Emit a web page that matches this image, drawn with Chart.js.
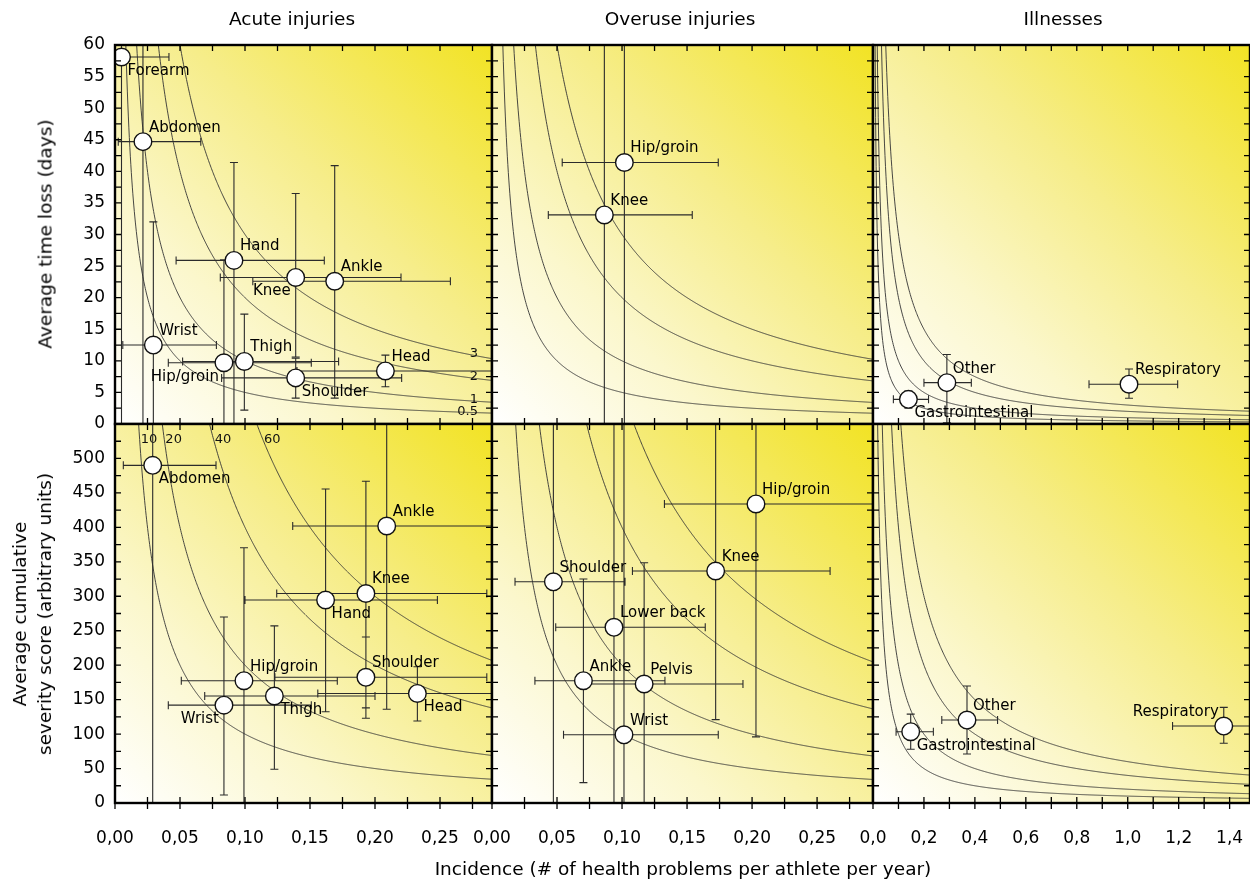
<!DOCTYPE html>
<html>
<head>
<meta charset="utf-8">
<script src="https://cdn.jsdelivr.net/npm/chart.js@4.4.0/dist/chart.umd.min.js"></script>
<style>
  body { margin: 0; background: #fff; }
  #wrap { position: relative; width: 1250px; height: 882px; overflow: hidden; font-family: "DejaVu Sans", sans-serif; color: #000; }
  #wrap canvas { position: absolute; left: 0; top: 0; }
  .txt { position: absolute; white-space: nowrap; transform: translate(-50%, -50%); font-size: 18.5px; }
  .rot { transform: translate(-50%, -50%) rotate(-90deg); text-align: center; line-height: 25px; }
</style>
</head>
<body>
<div id="wrap">
  <canvas id="c1" width="1250" height="882"></canvas>
  <canvas id="c2" width="1250" height="882"></canvas>
  <canvas id="c3" width="1250" height="882"></canvas>
  <canvas id="c4" width="1250" height="882"></canvas>
  <canvas id="c5" width="1250" height="882"></canvas>
  <canvas id="c6" width="1250" height="882"></canvas>

  <div class="txt" style="left:292px; top:18px;">Acute injuries</div>
  <div class="txt" style="left:680px; top:18px;">Overuse injuries</div>
  <div class="txt" style="left:1063px; top:18px;">Illnesses</div>
  <div class="txt rot" style="left:45px; top:234px;">Average time loss (days)</div>
  <div class="txt rot" style="left:32px; top:614px;">Average cumulative<br>severity score (arbitrary units)</div>
  <div class="txt" style="left:683px; top:868px;">Incidence (# of health problems per athlete per year)</div>
</div>

<script>
Chart.defaults.font.family = '"DejaVu Sans", sans-serif';
Chart.defaults.color = '#111';

// tick values
var timeTicks = [0, 5, 10, 15, 20, 25, 30, 35, 40, 45, 50, 55, 60];
var severityTicks = [0, 50, 100, 150, 200, 250, 300, 350, 400, 450, 500];
var injuryIncTicks = [0, 0.05, 0.10, 0.15, 0.20, 0.25];
var illnessIncTicks = [0, 0.2, 0.4, 0.6, 0.8, 1.0, 1.2, 1.4];

// risk contours (incidence x time loss / incidence x severity)
var timeLossLevels = [0.5, 1, 2, 3];
var timeLossLevelText = ['0.5', '1', '2', '3'];
var severityLevels = [10, 20, 40, 60];
var severityLevelText = ['10', '20', '40', '60'];

// acute injuries - time loss
var acuteTimeNames = ['Forearm', 'Abdomen', 'Hand', 'Knee', 'Ankle', 'Wrist', 'Hip/groin', 'Thigh', 'Shoulder', 'Head'];
var acuteTimeInc = [0.005, 0.0215, 0.0915, 0.139, 0.169, 0.0295, 0.0838, 0.0995, 0.139, 0.208];
var acuteTimeIncLo = [-0.02, 0.0025, 0.047, 0.081, 0.106, 0.006, 0.041, 0.052, 0.082, 0.14];
var acuteTimeIncHi = [0.0415, 0.066, 0.161, 0.22, 0.258, 0.078, 0.151, 0.172, 0.2205, 0.33];
var acuteTimeLoss = [58.1, 44.7, 25.9, 23.2, 22.6, 12.5, 9.7, 9.9, 7.3, 8.4];
var acuteTimeLossLo = [-5, -5, -5, 10.6, 4.1, -5, -5, 2.2, 4.1, 5.9];
var acuteTimeLossHi = [90, 90, 41.4, 36.5, 40.9, 32.0, 26, 17.4, 10.4, 10.9];
var acuteTimeLabelAt = ['se', 'ne', 'ne', 'sw', 'ne', 'ne', 'sw', 'ne', 'se', 'ne'];

// overuse injuries - time loss
var overuseTimeNames = ['Hip/groin', 'Knee'];
var overuseTimeInc = [0.1018, 0.0864];
var overuseTimeIncLo = [0.054, 0.0433];
var overuseTimeIncHi = [0.174, 0.154];
var overuseTimeLoss = [41.4, 33.1];
var overuseTimeLossLo = [-5, -5];
var overuseTimeLossHi = [90, 90];
var overuseTimeLabelAt = ['ne', 'ne'];

// illnesses - time loss
var illTimeNames = ['Gastrointestinal', 'Other', 'Respiratory'];
var illTimeInc = [0.139, 0.29, 1.005];
var illTimeIncLo = [0.08, 0.2, 0.848];
var illTimeIncHi = [0.218, 0.386, 1.196];
var illTimeLoss = [3.9, 6.55, 6.3];
var illTimeLossLo = [2.5, 0.2, 4.07];
var illTimeLossHi = [5.2, 11.0, 8.7];
var illTimeLabelAt = ['se', 'ne', 'ne'];

// acute injuries - severity
var acuteSevNames = ['Abdomen', 'Ankle', 'Knee', 'Hand', 'Hip/groin', 'Shoulder', 'Head', 'Thigh', 'Wrist'];
var acuteSevInc = [0.029, 0.209, 0.193, 0.162, 0.0992, 0.193, 0.2326, 0.1226, 0.0838];
var acuteSevIncLo = [0.0064, 0.1367, 0.1244, 0.1, 0.051, 0.123, 0.156, 0.069, 0.041];
var acuteSevIncHi = [0.0777, 0.35, 0.286, 0.248, 0.171, 0.286, 0.35, 0.2, 0.151];
var acuteSeverity = [490, 402, 304, 294.6, 177.5, 182.4, 159, 155.3, 142];
var acuteSeverityLo = [-50, 136, 123, 132.5, -50, 138, 119, 49, 11.6];
var acuteSeverityHi = [700, 700, 467, 455.7, 370.5, 241, 197.8, 257, 270];
var acuteSevLabelAt = ['se', 'ne', 'ne', 'se', 'ne', 'ne', 'se', 'se', 'sw'];

// overuse injuries - severity
var overuseSevNames = ['Hip/groin', 'Knee', 'Shoulder', 'Lower back', 'Ankle', 'Pelvis', 'Wrist'];
var overuseSevInc = [0.203, 0.172, 0.0472, 0.0938, 0.0703, 0.117, 0.1015];
var overuseSevIncLo = [0.1326, 0.108, 0.0177, 0.049, 0.033, 0.073, 0.055];
var overuseSevIncHi = [0.35, 0.26, 0.1023, 0.164, 0.133, 0.193, 0.174];
var overuseSeverity = [434, 336.7, 321, 255, 177.5, 172.7, 99];
var overuseSeverityLo = [96, 121, -50, -50, 29.5, -50, 0.5];
var overuseSeverityHi = [700, 700, 700, 700, 325, 348.7, 700];
var overuseSevLabelAt = ['ne', 'ne', 'ne', 'ne', 'ne', 'ne', 'ne'];

// illnesses - severity
var illSevNames = ['Gastrointestinal', 'Other', 'Respiratory'];
var illSevInc = [0.148, 0.369, 1.377];
var illSevIncLo = [0.0906, 0.27, 1.176];
var illSevIncHi = [0.237, 0.489, 1.7];
var illSeverity = [103.5, 120.4, 111.7];
var illSeverityLo = [78, 71, 86.6];
var illSeverityHi = [129, 169.8, 138.8];
var illSevLabelAt = ['se', 'ne', 'nw'];

var panelInfo = {};
var Y_AXIS_W = 100;   // room for y tick labels on the left column
var X_AXIS_H = 60;    // room for x tick labels on the bottom row

// yellow corner gradient behind the plot
var bgPlugin = {
  id: 'panelBg',
  beforeDraw: function(chart) {
    var a = chart.chartArea, ctx = chart.ctx;
    var g = ctx.createLinearGradient(a.left, a.bottom, a.right, a.top);
    g.addColorStop(0, '#ffffff');
    g.addColorStop(0.3, '#fbf7cc');
    g.addColorStop(0.6, '#f6ed8a');
    g.addColorStop(1, '#f2e324');
    ctx.save();
    ctx.fillStyle = g;
    ctx.fillRect(a.left, a.top, a.right - a.left, a.bottom - a.top);
    ctx.restore();
  }
};

// hyperbolic iso-burden lines
var isoPlugin = {
  id: 'isoLines',
  beforeDatasetsDraw: function(chart) {
    var p = panelInfo[chart.canvas.id];
    var a = chart.chartArea, ctx = chart.ctx, xs = chart.scales.x, ys = chart.scales.y;
    ctx.save();
    ctx.beginPath();
    ctx.rect(a.left, a.top, a.right - a.left, a.bottom - a.top);
    ctx.clip();
    ctx.strokeStyle = '#333';
    ctx.lineWidth = 0.9;
    p.levels.forEach(function(k) {
      var start = xs.getPixelForValue(k / ys.max);
      ctx.beginPath();
      ctx.moveTo(start, a.top);
      for (var px = start; px <= a.right + 1; px += 0.5) {
        ctx.lineTo(px, ys.getPixelForValue(k / xs.getValueForPixel(px)));
      }
      ctx.stroke();
    });
    if (p.levelText) {
      ctx.fillStyle = '#111';
      ctx.font = '13px "DejaVu Sans", sans-serif';
      ctx.textBaseline = 'middle';
      p.levels.forEach(function(k, j) {
        if (p.levelTextAt == 'right') {
          var px = a.right - 20;
          ctx.textAlign = 'right';
          ctx.fillText(p.levelText[j], a.right - 14, ys.getPixelForValue(k / xs.getValueForPixel(px)) - 1);
        } else {
          var py = a.top + 16;
          ctx.textAlign = 'left';
          ctx.fillText(p.levelText[j], xs.getPixelForValue(k / ys.getValueForPixel(py)) + 1, py);
        }
      });
    }
    ctx.restore();
  }
};

// confidence interval whiskers
var errPlugin = {
  id: 'errBars',
  beforeDatasetsDraw: function(chart) {
    var p = panelInfo[chart.canvas.id];
    var a = chart.chartArea, ctx = chart.ctx, xs = chart.scales.x, ys = chart.scales.y;
    var cap = 4;
    function seg(x1, y1, x2, y2) { ctx.moveTo(x1, y1); ctx.lineTo(x2, y2); }
    ctx.save();
    ctx.beginPath();
    ctx.rect(a.left, a.top, a.right - a.left, a.bottom - a.top);
    ctx.clip();
    ctx.strokeStyle = '#2b2b2b';
    ctx.lineWidth = 1.1;
    ctx.beginPath();
    for (var i = 0; i < p.x.length; i++) {
      var cx = xs.getPixelForValue(p.x[i]), cy = ys.getPixelForValue(p.y[i]);
      var x1 = xs.getPixelForValue(p.xLo[i]), x2 = xs.getPixelForValue(p.xHi[i]);
      var y1 = ys.getPixelForValue(p.yLo[i]), y2 = ys.getPixelForValue(p.yHi[i]);
      seg(x1, cy, x2, cy);
      seg(x1, cy - cap, x1, cy + cap);
      seg(x2, cy - cap, x2, cy + cap);
      seg(cx, y1, cx, y2);
      seg(cx - cap, y1, cx + cap, y1);
      seg(cx - cap, y2, cx + cap, y2);
    }
    ctx.stroke();
    ctx.restore();
  }
};

// point names
var labelPlugin = {
  id: 'pointNames',
  afterDatasetsDraw: function(chart) {
    var p = panelInfo[chart.canvas.id];
    var ctx = chart.ctx, xs = chart.scales.x, ys = chart.scales.y;
    ctx.save();
    ctx.fillStyle = '#000';
    ctx.font = '15px "DejaVu Sans", sans-serif';
    ctx.textBaseline = 'middle';
    for (var i = 0; i < p.names.length; i++) {
      var cx = xs.getPixelForValue(p.x[i]), cy = ys.getPixelForValue(p.y[i]);
      var at = p.labelAt[i];
      ctx.textAlign = at[1] == 'e' ? 'left' : 'right';
      var dx = at[1] == 'e' ? 6 : -5;
      var dy = at[0] == 'n' ? -14 : 14;
      ctx.fillText(p.names[i], cx + dx, cy + dy);
    }
    ctx.restore();
  }
};

// frame with inward ticks
var framePlugin = {
  id: 'frameTicks',
  afterDraw: function(chart) {
    var p = panelInfo[chart.canvas.id];
    var a = chart.chartArea, ctx = chart.ctx, xs = chart.scales.x, ys = chart.scales.y;
    var t = 6, v, px, py;
    ctx.save();
    ctx.strokeStyle = '#000';
    ctx.lineWidth = 1.3;
    ctx.beginPath();
    var xStep = (p.xTicks[1] - p.xTicks[0]) / 2;
    for (v = 0; v <= xs.max + 1e-9; v += xStep) {
      px = xs.getPixelForValue(v);
      ctx.moveTo(px, a.bottom - t); ctx.lineTo(px, a.bottom + (p.showX ? t : 0));
      ctx.moveTo(px, a.top); ctx.lineTo(px, a.top + t);
    }
    var yStep = (p.yTicks[1] - p.yTicks[0]) / 2;
    for (v = 0; v <= ys.max + 1e-9; v += yStep) {
      py = ys.getPixelForValue(v);
      ctx.moveTo(a.left, py); ctx.lineTo(a.left + t, py);
      ctx.moveTo(a.right - t, py); ctx.lineTo(a.right, py);
    }
    ctx.stroke();
    ctx.lineWidth = 2.4;
    ctx.strokeRect(a.left, a.top, a.right - a.left, a.bottom - a.top);
    ctx.restore();
  }
};

var panels = [
  { id: 'c1', area: [115, 45, 492, 424], xMax: 0.29, yMax: 60, xTicks: injuryIncTicks, yTicks: timeTicks, dec: 2,
    showX: false, showY: true, levels: timeLossLevels, levelText: timeLossLevelText, levelTextAt: 'right',
    names: acuteTimeNames, x: acuteTimeInc, xLo: acuteTimeIncLo, xHi: acuteTimeIncHi,
    y: acuteTimeLoss, yLo: acuteTimeLossLo, yHi: acuteTimeLossHi, labelAt: acuteTimeLabelAt },
  { id: 'c2', area: [492, 45, 873, 424], xMax: 0.293, yMax: 60, xTicks: injuryIncTicks, yTicks: timeTicks, dec: 2,
    showX: false, showY: false, levels: timeLossLevels,
    names: overuseTimeNames, x: overuseTimeInc, xLo: overuseTimeIncLo, xHi: overuseTimeIncHi,
    y: overuseTimeLoss, yLo: overuseTimeLossLo, yHi: overuseTimeLossHi, labelAt: overuseTimeLabelAt },
  { id: 'c3', area: [873, 45, 1250, 424], xMax: 1.48, yMax: 60, xTicks: illnessIncTicks, yTicks: timeTicks, dec: 1,
    showX: false, showY: false, levels: timeLossLevels,
    names: illTimeNames, x: illTimeInc, xLo: illTimeIncLo, xHi: illTimeIncHi,
    y: illTimeLoss, yLo: illTimeLossLo, yHi: illTimeLossHi, labelAt: illTimeLabelAt },
  { id: 'c4', area: [115, 424, 492, 803], xMax: 0.29, yMax: 550, xTicks: injuryIncTicks, yTicks: severityTicks, dec: 2,
    showX: true, showY: true, levels: severityLevels, levelText: severityLevelText, levelTextAt: 'top',
    names: acuteSevNames, x: acuteSevInc, xLo: acuteSevIncLo, xHi: acuteSevIncHi,
    y: acuteSeverity, yLo: acuteSeverityLo, yHi: acuteSeverityHi, labelAt: acuteSevLabelAt },
  { id: 'c5', area: [492, 424, 873, 803], xMax: 0.293, yMax: 550, xTicks: injuryIncTicks, yTicks: severityTicks, dec: 2,
    showX: true, showY: false, levels: severityLevels,
    names: overuseSevNames, x: overuseSevInc, xLo: overuseSevIncLo, xHi: overuseSevIncHi,
    y: overuseSeverity, yLo: overuseSeverityLo, yHi: overuseSeverityHi, labelAt: overuseSevLabelAt },
  { id: 'c6', area: [873, 424, 1250, 803], xMax: 1.48, yMax: 550, xTicks: illnessIncTicks, yTicks: severityTicks, dec: 1,
    showX: true, showY: false, levels: severityLevels,
    names: illSevNames, x: illSevInc, xLo: illSevIncLo, xHi: illSevIncHi,
    y: illSeverity, yLo: illSeverityLo, yHi: illSeverityHi, labelAt: illSevLabelAt }
];

function makePanel(p) {
  panelInfo[p.id] = p;
  var yW = p.showY ? Y_AXIS_W : 0;
  var xH = p.showX ? X_AXIS_H : 0;
  var pts = p.x.map(function(v, i) { return { x: v, y: p.y[i] }; });
  return new Chart(document.getElementById(p.id), {
    type: 'scatter',
    data: {
      datasets: [{
        data: pts,
        pointRadius: 8.8,
        pointHoverRadius: 8.8,
        pointBackgroundColor: '#ffffff',
        pointBorderColor: '#111',
        pointBorderWidth: 1.4
      }]
    },
    options: {
      responsive: false,
      animation: false,
      events: [],
      layout: {
        autoPadding: false,
        padding: { left: p.area[0] - yW, top: p.area[1], right: 1250 - p.area[2], bottom: 882 - p.area[3] - xH }
      },
      plugins: { legend: { display: false }, tooltip: { enabled: false } },
      scales: {
        x: {
          type: 'linear', min: 0, max: p.xMax,
          grid: { display: false, drawTicks: false },
          border: { display: false },
          afterBuildTicks: function(s) { s.ticks = p.xTicks.map(function(v) { return { value: v }; }); },
          afterFit: function(s) { s.height = xH; s.paddingLeft = 0; s.paddingRight = 0; },
          ticks: {
            display: p.showX, padding: 25, autoSkip: false, maxRotation: 0, minRotation: 0,
            font: { size: 17 }, color: '#000',
            callback: function(v) { return Number(v).toFixed(p.dec).replace('.', ','); }
          }
        },
        y: {
          type: 'linear', min: 0, max: p.yMax,
          grid: { display: false, drawTicks: false },
          border: { display: false },
          afterBuildTicks: function(s) { s.ticks = p.yTicks.map(function(v) { return { value: v }; }); },
          afterFit: function(s) { s.width = yW; s.paddingTop = 0; s.paddingBottom = 0; },
          ticks: { display: p.showY, padding: 10, font: { size: 17 }, color: '#000' }
        }
      }
    },
    plugins: [bgPlugin, isoPlugin, errPlugin, labelPlugin, framePlugin]
  });
}

panels.forEach(makePanel);
</script>
</body>
</html>
